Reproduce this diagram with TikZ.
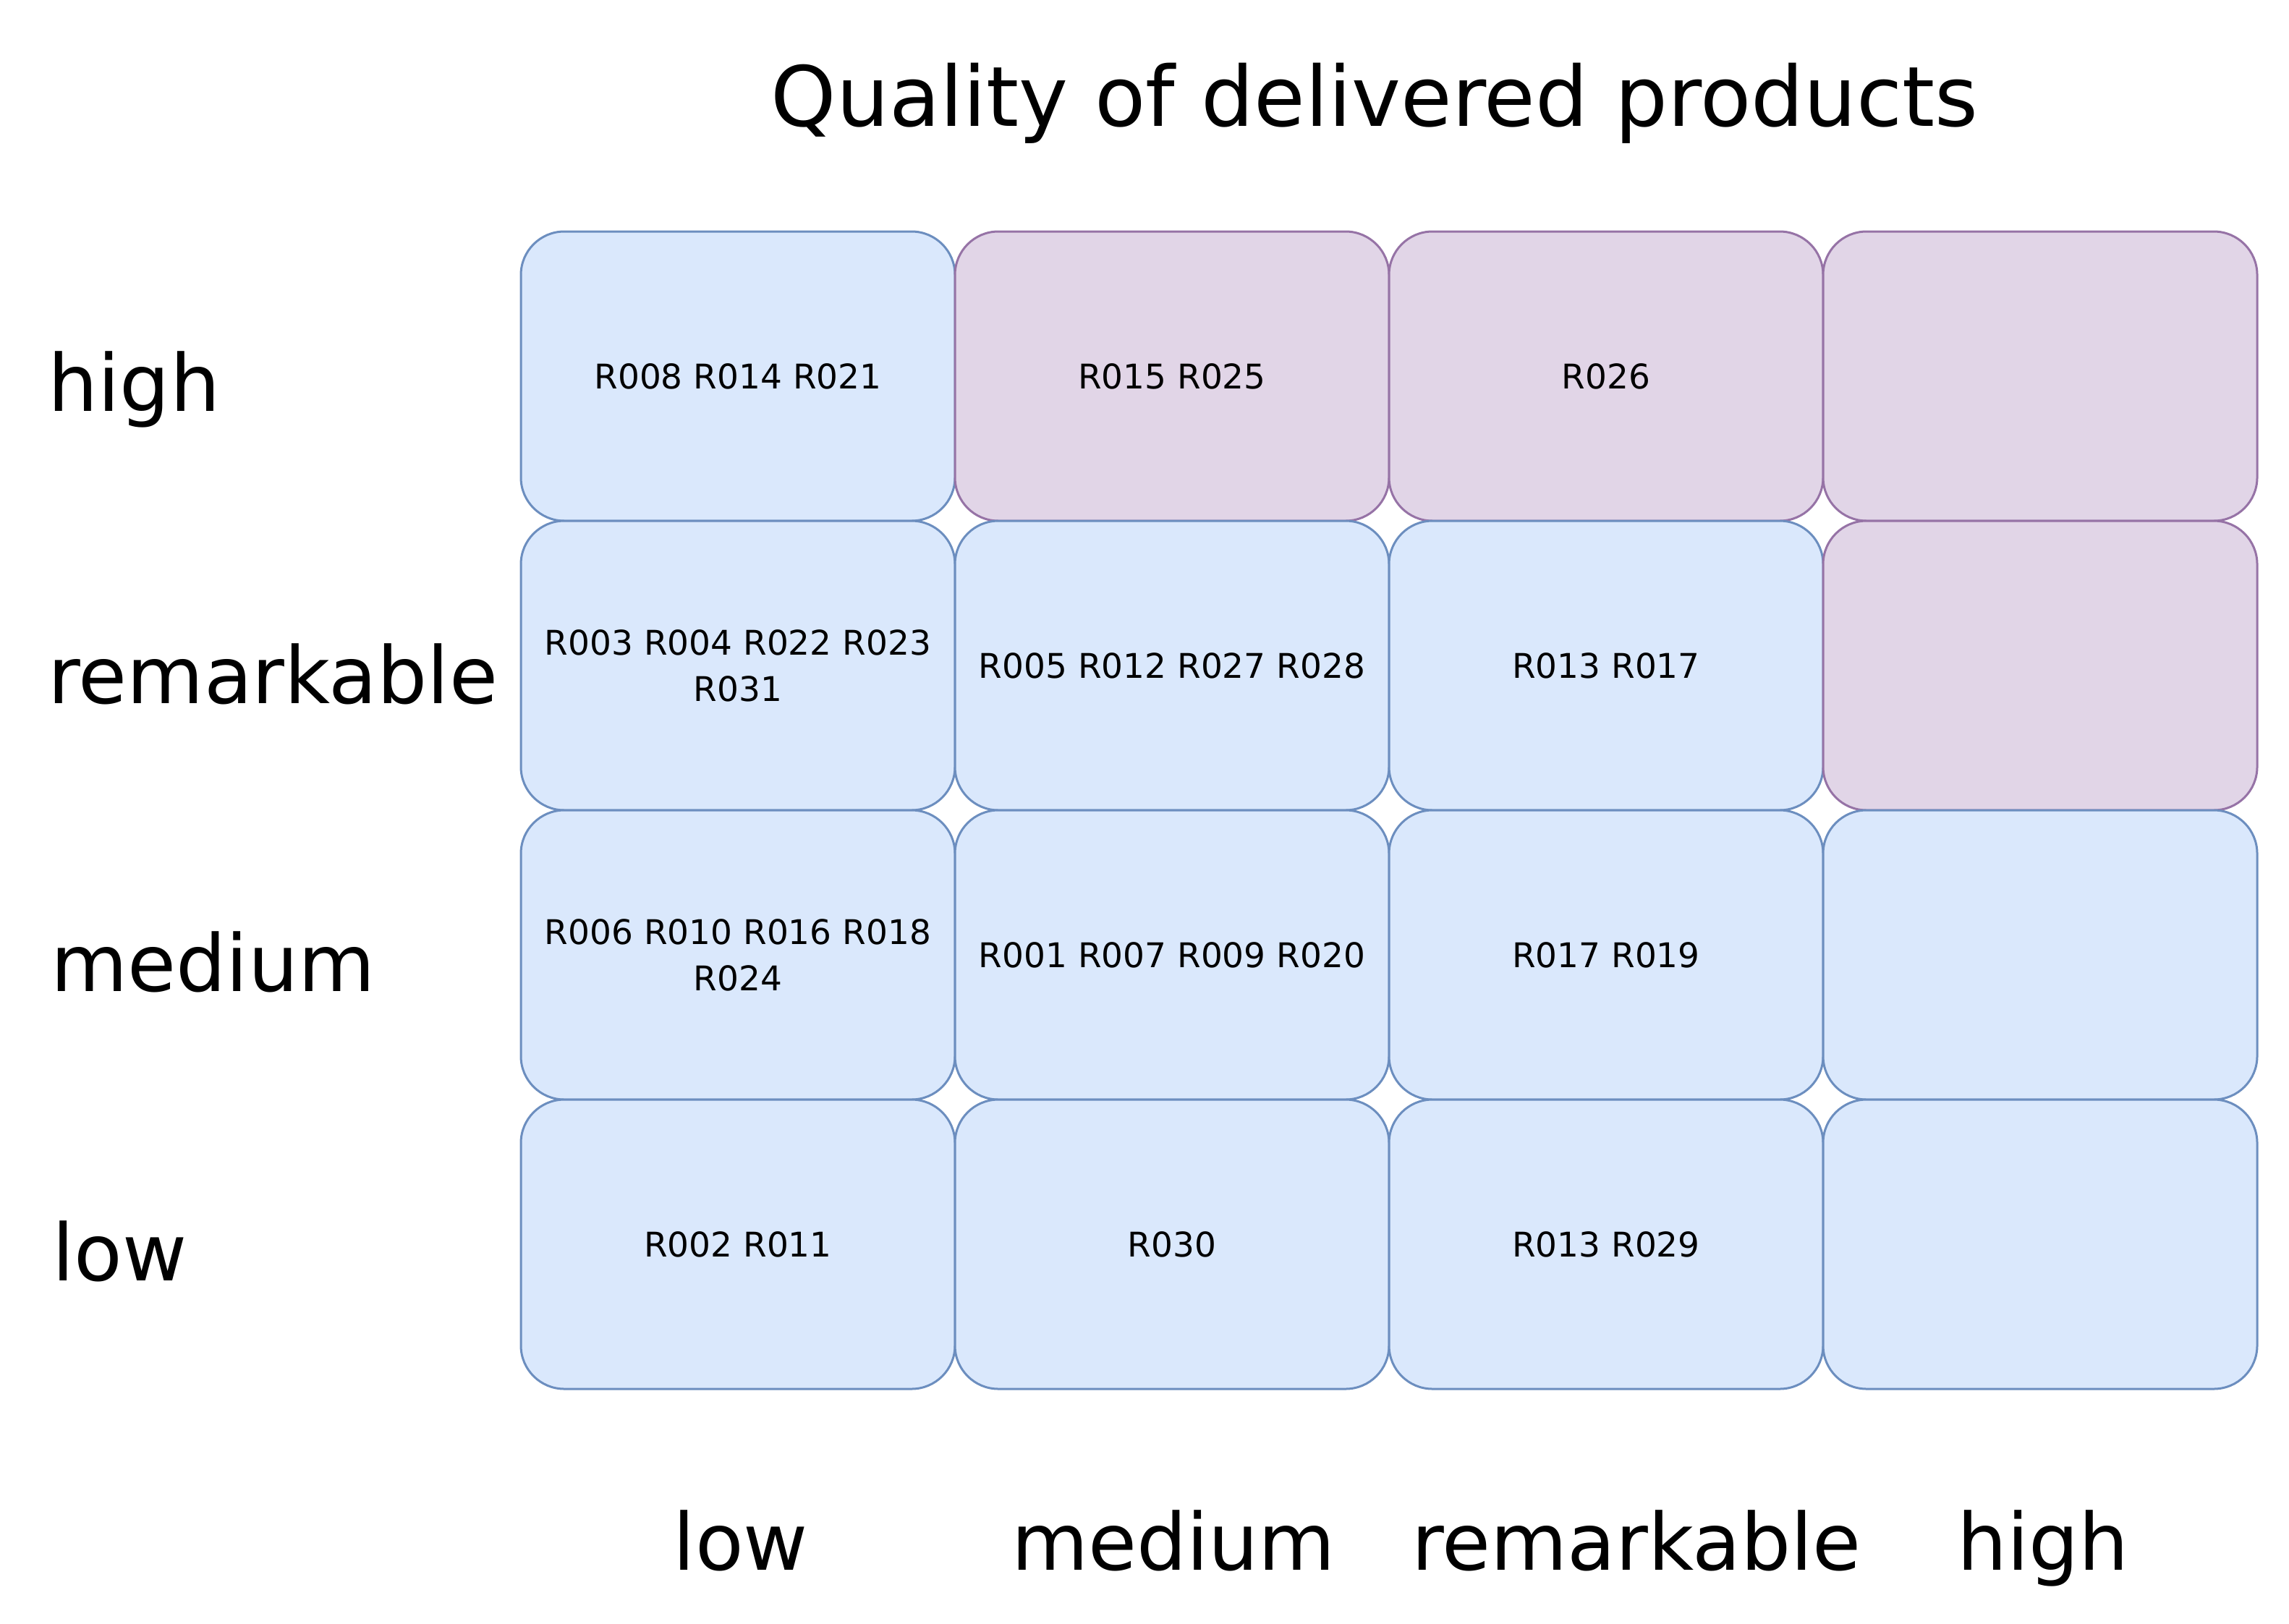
\documentclass[tikz,border=0pt]{standalone}
\usepackage{fontspec}
\setmainfont{DejaVu Sans}
\usepackage{xcolor}
\definecolor{bluefill}{HTML}{DAE8FC}
\definecolor{bluedraw}{HTML}{6C8EBF}
\definecolor{purplefill}{HTML}{E1D5E7}
\definecolor{purpledraw}{HTML}{9673A6}
\tikzset{
  cellblue/.style={draw=bluedraw, fill=bluefill, line width=1.5pt, rounded corners=30pt,
    minimum width=300pt, minimum height=200pt, inner sep=0pt, align=center,
    font=\fontsize{23.5}{32}\selectfont},
  cellpurple/.style={cellblue, draw=purpledraw, fill=purplefill},
  axislab/.style={inner sep=0pt, font=\fontsize{54.5}{66}\selectfont}
}

\begin{document}
\begin{tikzpicture}[x=1pt,y=-1pt]
\useasboundingbox (0,0) rectangle (1582,1122);
% Title
\node[axislab, font=\fontsize{57.5}{68}\selectfont, anchor=base] (title) at (950,87) {Quality of delivered products};
% Row 1: high
\node[cellblue] (c11) at (510,260) {R008 R014 R021};
\node[cellpurple] (c12) at (810,260) {R015 R025};
\node[cellpurple] (c13) at (1110,260) {R026};
\node[cellpurple] (c14) at (1410,260) {};
% Row 2: remarkable
\node[cellblue] (c21) at (510,460) {R003 R004 R022 R023\\R031};
\node[cellblue] (c22) at (810,460) {R005 R012 R027 R028};
\node[cellblue] (c23) at (1110,460) {R013 R017};
\node[cellpurple] (c24) at (1410,460) {};
% Row 3: medium
\node[cellblue] (c31) at (510,660) {R006 R010 R016 R018\\R024};
\node[cellblue] (c32) at (810,660) {R001 R007 R009 R020};
\node[cellblue] (c33) at (1110,660) {R017 R019};
\node[cellblue] (c34) at (1410,660) {};
% Row 4: low
\node[cellblue] (c41) at (510,860) {R002 R011};
\node[cellblue] (c42) at (810,860) {R030};
\node[cellblue] (c43) at (1110,860) {R013 R029};
\node[cellblue] (c44) at (1410,860) {};
% Row labels
\node[axislab, anchor=base west] (rhigh) at (33,284) {high};
\node[axislab, anchor=base west] (rremark) at (33,486) {remarkable};
\node[axislab, anchor=base west] (rmedium) at (35,685) {medium};
\node[axislab, anchor=base west] (rlow) at (36,885) {low};
% Column labels
\node[axislab, anchor=base] (clow) at (512,1085) {low};
\node[axislab, anchor=base] (cmedium) at (811,1085) {medium};
\node[axislab, anchor=base] (cremark) at (1131,1085) {remarkable};
\node[axislab, anchor=base] (chigh) at (1412,1085) {high};
\end{tikzpicture}
\end{document}
